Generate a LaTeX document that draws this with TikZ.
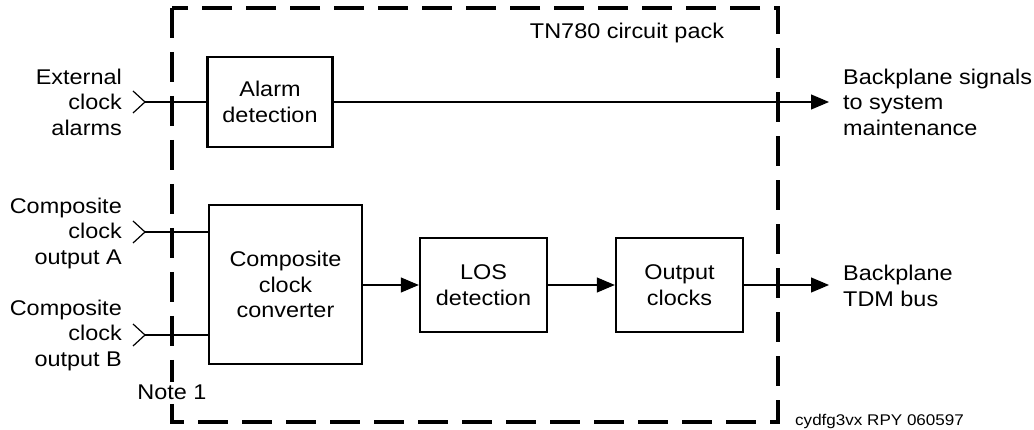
\documentclass[tikz,border=0pt]{standalone}
\usepackage{fontspec}
\setmainfont{Liberation Sans}[FakeStretch=1.1]
\usetikzlibrary{arrows.meta}
\begin{document}
\begin{tikzpicture}[x=1pt,y=-1pt,
  txt/.style={font=\fontsize{21.3}{25.5}\selectfont, inner sep=0pt},
  blk/.style={draw, line width=2.4pt, inner sep=0pt, align=center, txt},
  wire/.style={line width=1.2pt},
  arr/.style={line width=1.2pt, -{Triangle[length=18pt,width=15pt]}},
  chev/.style={line width=1.2pt},
  pack/.style={line width=4pt, dash pattern=on 30pt off 14pt}
]
\useasboundingbox (0,0) rectangle (1034,430);
\fill[white] (0,0) rectangle (1034,430);

% circuit pack outline
\draw[pack] (172,8) rectangle (778,422);
\node[txt, anchor=center] (title) at (627,33) {TN780 circuit pack};

% blocks
\node[blk, minimum width=125pt, minimum height=90pt] (alarm) at (270,102) {Alarm\\detection};
\node[blk, minimum width=153pt, minimum height=159pt] (conv) at (285.5,284.5) {Composite\\clock\\converter};
\node[blk, minimum width=127pt, minimum height=94pt] (los) at (483.5,285) {LOS\\detection};
\node[blk, minimum width=127pt, minimum height=94pt] (outc) at (679.5,285) {Output\\clocks};

% input labels
\node[txt, align=right, anchor=east] (extl) at (122,102) {External\\clock\\alarms};
\node[txt, align=right, anchor=east] (cal) at (122,233) {Composite\\clock\\output A};
\node[txt, align=right, anchor=east] (cbl) at (122,335) {Composite\\clock\\output B};

% chevron tips
\coordinate (ext) at (145,102);
\coordinate (ca) at (145,232);
\coordinate (cb) at (145,335);
\draw[chev] ([shift={(-12,-11)}]ext) -- (ext) -- ([shift={(-12,11)}]ext);
\draw[chev] ([shift={(-12,-11)}]ca) -- (ca) -- ([shift={(-12,11)}]ca);
\draw[chev] ([shift={(-12,-11)}]cb) -- (cb) -- ([shift={(-12,11)}]cb);
\draw[wire] (ext) -- (alarm.west |- ext);
\draw[wire] (ca) -- (conv.west |- ca);
\draw[wire] (cb) -- (conv.west |- cb);

% Note 1
\node[txt, fill=white, inner sep=3pt] (note) at (172,392) {Note 1};

% outputs
\coordinate (bsig) at (829,102);
\coordinate (btdm) at (829,285);
\node[txt, align=left, anchor=west] (bsigl) at (843,102) {Backplane signals\\to system\\maintenance};
\node[txt, align=left, anchor=west] (btdml) at (843,286) {Backplane\\TDM bus};

\draw[arr] (alarm.east) -- (bsig);
\draw[arr] (conv.east |- los.west) -- (los.west);
\draw[arr] (los.east) -- (outc.west);
\draw[arr] (outc.east) -- (btdm);

\node[font=\fontsize{15.5}{18}\selectfont, inner sep=0pt, anchor=west] (ref) at (795,421) {cydfg3vx RPY 060597};
\end{tikzpicture}
\end{document}
